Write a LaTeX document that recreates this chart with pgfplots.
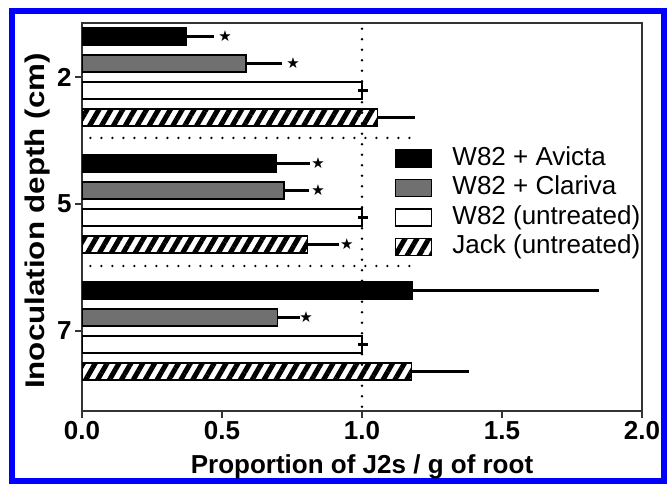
\documentclass[border=0pt]{standalone}
\usepackage{pgfplots}
\pgfplotsset{compat=1.18}
\usepackage{fontspec}
\setmainfont{Liberation Sans}
\newfontfamily\starfont{DejaVu Sans}
\usetikzlibrary{patterns.meta}
\definecolor{barGray}{RGB}{112,112,112}
\definecolor{frameBlue}{RGB}{0,0,255}

\begin{document}
\begin{tikzpicture}[x=1pt,y=1pt]
\useasboundingbox (0,0) rectangle (668,487);
\draw[frameBlue, line width=6pt] (12,6) rectangle (664,475.5);
\begin{axis}[
  at={(82pt,76pt)}, anchor=south west,
  scale only axis, width=560pt, height=388pt,
  xmin=0, xmax=2, ymin=-2.63, ymax=0.425,
  xtick={0,0.5,1,1.5,2},
  ytick={0,-1,-2}, yticklabels={2,5,7},
  xtick pos=bottom, ytick pos=left,
  tick align=outside, major tick length=7pt,
  every tick/.style={black!80, line width=1.3pt},
  axis line style={black!80, line width=1.3pt},
  /pgf/number format/assume math mode=true,
  /pgf/number format/.cd, fixed, fixed zerofill, precision=1, /pgfplots/.cd,
  tick label style={font=\fontsize{26}{26}\selectfont\bfseries},
  xlabel={Proportion of J2s / g of root},
  xlabel style={font=\fontsize{26}{26}\selectfont\bfseries, yshift=-8pt},
  ylabel={\scalebox{1.16}[1]{Inoculation depth (cm)}},
  ylabel style={font=\fontsize{27}{27}\selectfont\bfseries, xshift=-4pt},
  legend style={at={(axis cs:1.107,-0.53)}, anchor=north west, draw=none, fill=none,
    font=\fontsize{26}{28.5}\selectfont, cells={anchor=west}, row sep=8.5pt, column sep=20pt,
    nodes={inner sep=0pt}},
  legend image code/.code={\draw[#1, line width=1.3pt] (0pt,-10.2pt) rectangle (36pt,6.8pt);},
  error bars/error bar style={line width=2.6pt, black},
  error bars/error mark options={line width=2.6pt, mark size=5pt, black},
]
% reference dotted lines
\addplot[forget plot, black, line width=2.6pt, line cap=round, dash pattern=on 0pt off 10.5pt]
  coordinates {(1,0.38) (1,-2.63)};
\addplot[forget plot, black, line width=2.6pt, line cap=round, dash pattern=on 0pt off 11pt]
  coordinates {(0.03,-0.48) (1.17,-0.48)};
\addplot[forget plot, black, line width=2.6pt, line cap=round, dash pattern=on 0pt off 11pt]
  coordinates {(0.03,-1.488) (1.17,-1.488)};

\addplot[xbar, bar width=0.135, bar shift=0pt, fill=black, draw=black, line width=1.3pt,
  error bars/.cd, x dir=plus, x explicit]
  coordinates {(0.371,0.319) +- (0.083,0) (0.693,-0.681) +- (0.103,0) (1.179,-1.681) +- (0.65,0)};
\addlegendentry{W82 + Avicta}

\addplot[xbar, bar width=0.135, bar shift=0pt, fill=barGray, draw=black, line width=1.3pt,
  error bars/.cd, x dir=plus, x explicit]
  coordinates {(0.586,0.106) +- (0.112,0) (0.721,-0.894) +- (0.073,0) (0.697,-1.894) +- (0.062,0)};
\addlegendentry{W82 + Clariva}

\addplot[xbar, bar width=0.135, bar shift=0pt, fill=white, draw=black, line width=1.3pt,
  error bars/.cd, x dir=plus, x explicit]
  coordinates {(1,-0.106) +- (0.004,0) (1,-1.106) +- (0.004,0) (1,-2.106) +- (0.004,0)};
\addlegendentry{W82 (untreated)}

\addplot[xbar, bar width=0.135, bar shift=0pt, fill=white, draw=black, line width=1.3pt,
  pattern={Lines[angle=60,distance=10.3pt,line width=5pt]}, pattern color=black,
  error bars/.cd, x dir=plus, x explicit]
  coordinates {(1.056,-0.319) +- (0.115,0) (0.805,-1.319) +- (0.096,0) (1.177,-2.319) +- (0.186,0)};
\addlegendentry{Jack (untreated)}

% significance stars
\addplot[forget plot, only marks, mark=text, text mark={\starfont\fontsize{15}{15}\selectfont ★}]
  coordinates {(0.511,0.319) (0.754,0.106) (0.843,-0.681) (0.843,-0.894) (0.946,-1.319) (0.80,-1.894)};
\end{axis}
\end{tikzpicture}
\end{document}
